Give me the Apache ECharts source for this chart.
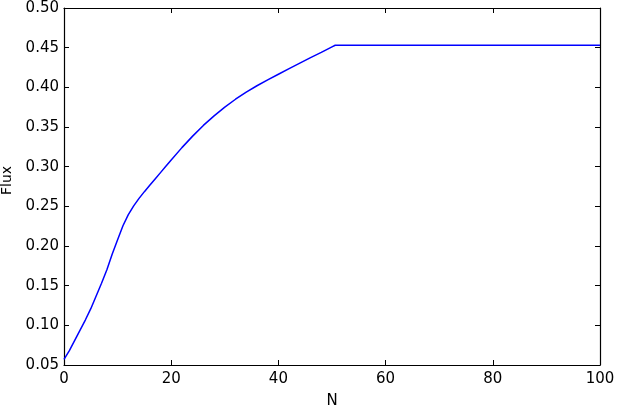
<!DOCTYPE html>
<html>
<head>
<meta charset="utf-8">
<script src="https://cdn.jsdelivr.net/npm/echarts@6/dist/echarts.min.js"></script>
<style>
  html, body { margin: 0; padding: 0; background: #fff; }
  #chart { width: 617px; height: 408px; }
</style>
</head>
<body>
<div id="chart"></div>
<script>
// N values
var nValues = [0, 1, 2, 3, 4, 5, 6, 7, 8, 9, 10, 11, 12, 13, 14, 15, 16, 17, 18, 19, 20,
  22, 24, 26, 28, 30, 32, 34, 36, 38, 40, 42, 44, 46, 48, 50, 50.6, 100];
// Flux at each N
var fluxValues = [0.057, 0.068, 0.081, 0.094, 0.107, 0.121, 0.137, 0.153, 0.170, 0.190, 0.208,
  0.2255, 0.2395, 0.2505, 0.260, 0.2685, 0.2765, 0.2845, 0.2925, 0.3005, 0.3085,
  0.324, 0.3385, 0.352, 0.364, 0.375, 0.385, 0.394, 0.402, 0.4095, 0.4165, 0.4235, 0.4305, 0.4375,
  0.444, 0.451, 0.453, 0.453];

var xTicks = [0, 20, 40, 60, 80, 100];
var yTicks = [0.05, 0.10, 0.15, 0.20, 0.25, 0.30, 0.35, 0.40, 0.45, 0.50];

var fontFamily = "DejaVu Sans";
var frameColor = "#000";

var seriesData = nValues.map(function (n, i) {
  return [n, fluxValues[i]];
});

function frameAxis(extra) {
  return Object.assign({
    type: "value",
    axisLine: { show: true, onZero: false, lineStyle: { color: frameColor, width: 1.2 } },
    axisTick: { show: true, inside: true, length: 5, lineStyle: { color: frameColor, width: 1 } },
    splitLine: { show: false },
  }, extra);
}

var chart = echarts.init(document.getElementById("chart"), null, { renderer: "canvas" });
chart.setOption({
  animation: false,
  backgroundColor: "#fff",
  grid: { left: 64, right: 17, top: 8, bottom: 43, containLabel: false, outerBoundsMode: "none" },
  xAxis: [
    frameAxis({
      position: "bottom",
      min: xTicks[0],
      max: xTicks[xTicks.length - 1],
      interval: 20,
      name: "N",
      nameLocation: "middle",
      nameGap: 29,
      nameTextStyle: { fontFamily: fontFamily, fontSize: 15, color: "#000" },
      axisLabel: { margin: 7, fontFamily: fontFamily, fontSize: 15, color: "#000" },
    }),
    frameAxis({
      position: "top",
      min: xTicks[0],
      max: xTicks[xTicks.length - 1],
      interval: 20,
      axisLabel: { show: false },
    }),
  ],
  yAxis: [
    frameAxis({
      position: "left",
      min: yTicks[0],
      max: yTicks[yTicks.length - 1],
      interval: 0.05,
      name: "Flux",
      nameLocation: "middle",
      nameGap: 50,
      nameTextStyle: { fontFamily: fontFamily, fontSize: 14, color: "#000", padding: [0, 0, 0, 12] },
      axisLabel: {
        margin: 5,
        fontFamily: fontFamily,
        fontSize: 15,
        color: "#000",
        formatter: function (v) { return v.toFixed(2); },
      },
    }),
    frameAxis({
      position: "right",
      min: yTicks[0],
      max: yTicks[yTicks.length - 1],
      interval: 0.05,
      axisLabel: { show: false },
    }),
  ],
  series: [
    {
      type: "line",
      data: seriesData,
      xAxisIndex: 0,
      yAxisIndex: 0,
      showSymbol: false,
      smooth: false,
      lineStyle: { color: "#0000ff", width: 1.5 },
    },
  ],
});
</script>
</body>
</html>
